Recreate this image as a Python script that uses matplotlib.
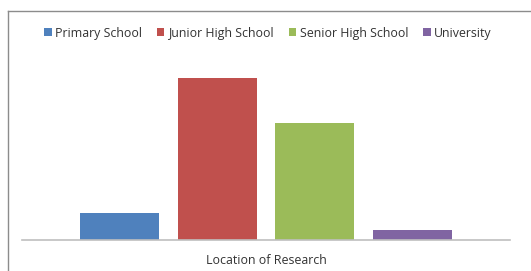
import matplotlib.pyplot as plt
from matplotlib.lines import Line2D

# data
series = ["Primary School", "Junior High School", "Senior High School", "University"]
values = [15, 90, 65, 5.5]
colors = ["#4F81BD", "#C0504D", "#9BBB59", "#8064A2"]
offsets = [-0.3, -0.1, 0.1, 0.3]

W, H = 531, 271

fig = plt.figure(figsize=(W / 100, H / 100), dpi=100)
plt.rcParams['font.family'] = ['Open Sans', 'DejaVu Sans']

# chart frame, only left and top edges are visible in the crop
fx, fy = 7.5 / W, 1 - 10.5 / H
fig.lines.append(Line2D([fx, fx], [0, fy], transform=fig.transFigure,
                        color="#8c8c8c", linewidth=1.0))
fig.lines.append(Line2D([fx, 1], [fy, fy], transform=fig.transFigure,
                        color="#8c8c8c", linewidth=1.0))

ax = fig.add_axes([22 / W, 1 - 240 / H, 488 / W, 180 / H])
for name, v, c, o in zip(series, values, colors, offsets):
    ax.bar(o, v, width=0.162, color=c, label=name)

ax.set_xlim(-0.5, 0.5)
ax.set_ylim(0, 100)
ax.set_xticks([])
ax.set_yticks([])
for s in ["top", "right", "left"]:
    ax.spines[s].set_visible(False)
ax.spines["bottom"].set_color("#BFBFBF")
ax.spines["bottom"].set_linewidth(1.2)
ax.patch.set_visible(False)

ax.set_xlabel("Location of Research", fontsize=8.9, color="#333333", labelpad=10)

leg = fig.legend(loc="center", bbox_to_anchor=(268 / W, 1 - 33 / H), ncol=4,
                 frameon=False, fontsize=8.9, handlelength=0.6, handleheight=0.6,
                 handletextpad=0.3, columnspacing=1.2)
for t in leg.get_texts():
    t.set_color("#333333")

fig.savefig("out.png", dpi=100)
